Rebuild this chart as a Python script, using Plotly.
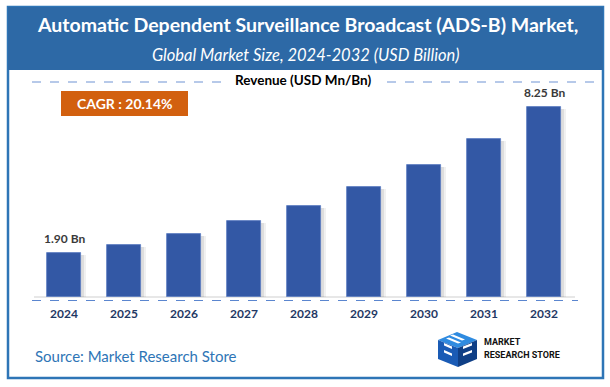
import plotly.graph_objects as go

years = ["2024", "2025", "2026", "2027", "2028", "2029", "2030", "2031", "2032"]
revenue = [1.90, 2.27, 2.74, 3.29, 3.95, 4.76, 5.72, 6.86, 8.25]
bar_labels = ["1.90 Bn", "", "", "", "", "", "", "", "8.25 Bn"]
title_text = "Automatic Dependent Surveillance Broadcast (ADS-B) Market,"
subtitle_text = "Global Market Size, 2024-2032 (USD Billion)"
axis_title = "Revenue (USD Mn/Bn)"
cagr_text = "CAGR : 20.14%"
source_text = "Source: Market Research Store"

W, H = 610, 387
ML, MR, MT, MB = 34, 36, 80, 90
PW, PH = W - ML - MR, H - MT - MB
FONT = "Lato"


def px(x):
    return (x - ML) / PW


def py(y):
    return (H - MB - y) / PH


BAR_W = 34 / 60.0
fig = go.Figure()

# soft shadows
for dx, alpha in [(5, 0.07), (3, 0.10)]:
    fig.add_trace(go.Bar(
        x=years, y=[v - 0.08 for v in revenue], width=BAR_W,
        offset=-BAR_W / 2 + dx / 60.0,
        marker=dict(color=f"rgba(60,60,60,{alpha})", line=dict(width=0)),
        hoverinfo="skip", showlegend=False))

fig.add_trace(go.Bar(
    x=years, y=revenue, width=BAR_W, offset=-BAR_W / 2,
    marker=dict(color="#3358a5", line=dict(color="#5a7cc2", width=0.8)),
    showlegend=False))

shapes = []
# outer frame
shapes.append(dict(type="rect", xref="paper", yref="paper",
                   x0=px(8), x1=px(603), y0=py(378), y1=py(7),
                   line=dict(color="#2e75b6", width=2.5), fillcolor="white", layer="below"))
# header band
shapes.append(dict(type="rect", xref="paper", yref="paper",
                   x0=px(8), x1=px(603), y0=py(70), y1=py(7),
                   line=dict(width=0), fillcolor="#2d69a6", layer="below"))
# dashed lines beside axis title
for x0, x1 in [(32, 228), (387, 596)]:
    shapes.append(dict(type="line", xref="paper", yref="paper",
                       x0=px(x0), x1=px(x1), y0=py(82), y1=py(82),
                       line=dict(color="#6f93d3", width=1, dash="dash"), layer="below"))
# baseline gray
shapes.append(dict(type="line", xref="paper", yref="paper",
                   x0=px(34), x1=px(575), y0=py(297), y1=py(297),
                   line=dict(color="#d0d0d0", width=1.2), layer="below"))
# dashed blue baseline
shapes.append(dict(type="line", xref="paper", yref="paper",
                   x0=px(32), x1=px(578), y0=py(300.5), y1=py(300.5),
                   line=dict(color="#5b86cf", width=1.2, dash="dash"), layer="below"))
# CAGR box
shapes.append(dict(type="rect", xref="paper", yref="paper",
                   x0=px(61), x1=px(188), y0=py(116), y1=py(91),
                   line=dict(width=0), fillcolor="#d2600f", layer="below"))


# logo cube
def path(pts):
    s = "M " + " L ".join(f"{px(a)},{py(b)}" for a, b in pts) + " Z"
    return s


shapes.append(dict(type="path", xref="paper", yref="paper",
                   path=path([(457, 332), (477, 340), (458, 348), (438, 340)]),
                   fillcolor="#2f8be0", line=dict(width=0)))
shapes.append(dict(type="path", xref="paper", yref="paper",
                   path=path([(438, 340), (458, 348), (458, 367), (438, 359)]),
                   fillcolor="#1a5bb5", line=dict(width=0)))
shapes.append(dict(type="path", xref="paper", yref="paper",
                   path=path([(458, 348), (477, 340), (477, 359), (458, 367)]),
                   fillcolor="#0f3f86", line=dict(width=0)))
for (a, b, c, d) in [((444, 343), (452, 346.5), (452, 349), (444, 345.5)),
                     ((444, 350), (452, 353.5), (452, 356), (444, 352.5)),
                     ((463, 346.5), (472, 343), (472, 345.5), (463, 349)),
                     ((463, 353.5), (472, 350), (472, 352.5), (463, 356))]:
    shapes.append(dict(type="path", xref="paper", yref="paper",
                       path=path([a, b, c, d]), fillcolor="white", line=dict(width=0)))
for (a, b, c, d) in [((450, 335.5), (462, 340.5), (465, 339.5), (453, 334.5)),
                     ((446, 338.5), (458, 343.5), (461, 342.5), (449, 337.5))]:
    shapes.append(dict(type="path", xref="paper", yref="paper",
                       path=path([a, b, c, d]), fillcolor="white", line=dict(width=0)))

annotations = []


def txt(x, y, text, size, color, bold=False, italic=False, xanchor="center", font=FONT,
        yanchor="middle"):
    t = f"<b>{text}</b>" if bold else text
    t = f"<i>{t}</i>" if italic else t
    annotations.append(dict(xref="paper", yref="paper", x=px(x), y=py(y), text=t,
                            showarrow=False, xanchor=xanchor, yanchor=yanchor,
                            borderpad=0,
                            font=dict(family=font, size=size, color=color)))


txt(307, 24, title_text, 19.5, "white", bold=True)
txt(305, 55, subtitle_text, 16.5, "white", italic=True)
txt(303, 80, axis_title, 13.5, "black", bold=True)
txt(125, 103.5, cagr_text, 14, "white", bold=True)
txt(34, 356, source_text, 15, "#2e75b6", xanchor="left")
txt(483, 347.5, "MARKET", 9, "#111111", bold=True, xanchor="left", font="Roboto",
    yanchor="bottom")
txt(483, 348.5, "RESEARCH STORE", 9, "#111111", bold=True, xanchor="left", font="Roboto",
    yanchor="top")

for i, (v, lab) in enumerate(zip(revenue, bar_labels)):
    if lab:
        annotations.append(dict(x=i, y=v, xref="x", yref="y", text=f"<b>{lab}</b>",
                                showarrow=False, yanchor="bottom", yshift=5,
                                font=dict(family=FONT, size=12, color="#3a3a3a")))

fig.update_layout(
    width=W, height=H,
    margin=dict(l=ML, r=MR, t=MT, b=MB, pad=0),
    paper_bgcolor="white", plot_bgcolor="rgba(0,0,0,0)",
    barmode="overlay", bargap=0,
    shapes=shapes, annotations=annotations,
    xaxis=dict(type="category", range=[-0.5, 8.5], showgrid=False, zeroline=False,
               showline=False, ticks="", ticklabelstandoff=8,
               tickfont=dict(family=FONT, size=12, color="#1f3864", weight="bold")),
    yaxis=dict(range=[0, PH / 23.03], visible=False, showgrid=False, zeroline=False),
)

fig.write_html("out.html", config={"displayModeBar": False},
               post_script="document.body.style.margin='0';document.body.style.overflow='hidden';")
